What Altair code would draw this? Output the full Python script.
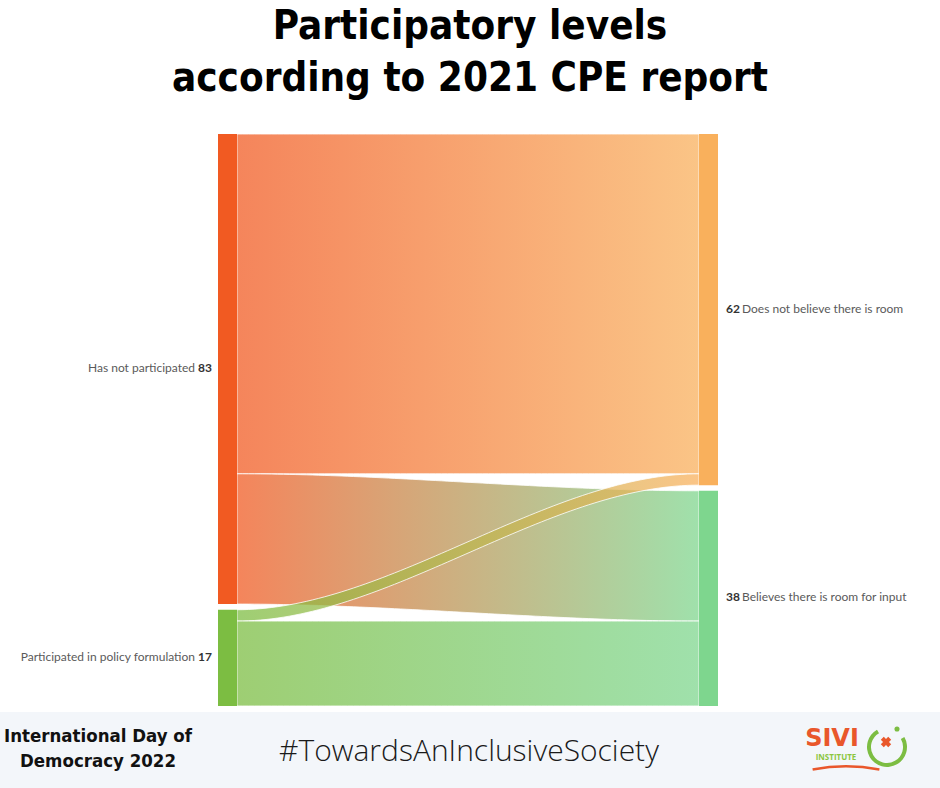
import altair as alt
import pandas as pd
import numpy as np

# ---------------- data ----------------
left_names = ["Has not participated", "Participated in policy formulation"]
left_values = [83, 17]
left_colors = ["#f15a22", "#7cbd42"]
right_names = ["Does not believe there is room", "Believes there is room for input"]
right_values = [62, 38]
right_colors = ["#f9b05c", "#7ed68e"]
link_source = [0, 0, 1, 1]
link_target = [0, 1, 0, 1]
link_values = [60, 23, 2, 15]

title_lines = ["Participatory levels", "according to 2021 CPE report"]
banner_left = ["International Day of", "Democracy 2022"]
hashtag = "#TowardsAnInclusiveSociety"
logo_word = "SIVI"
logo_sub = "INSTITUTE"

# ---------------- layout (sankey) ----------------
PAD = 1.0         # gap between nodes, in value units
NODE_W = 0.038    # node width as fraction of column distance
CURVE = 0.33
TOTAL = sum(left_values) + PAD

def stack(values):
    y0, out = 0.0, []
    for v in values:
        out.append((y0, y0 + v))
        y0 += v + PAD
    return out

left_pos = stack(left_values)
right_pos = stack(right_values)

node_rows = []
for i, (n, v) in enumerate(zip(left_names, left_values)):
    node_rows.append(dict(name=n, value=v, x0=0.0, x1=NODE_W,
                          y0=left_pos[i][0], y1=left_pos[i][1],
                          ym=(left_pos[i][0] + left_pos[i][1]) / 2, side="L"))
for i, (n, v) in enumerate(zip(right_names, right_values)):
    node_rows.append(dict(name=n, value=v, x0=1 - NODE_W, x1=1.0,
                          y0=right_pos[i][0], y1=right_pos[i][1],
                          ym=(right_pos[i][0] + right_pos[i][1]) / 2, side="R"))
nodes = pd.DataFrame(node_rows)

# link offsets at source (in target order) and target (in source order)
src_off = {i: left_pos[i][0] for i in range(len(left_values))}
src_start = {}
for k in sorted(range(len(link_values)), key=lambda k: (link_source[k], link_target[k])):
    s = link_source[k]
    src_start[k] = src_off[s]
    src_off[s] += link_values[k]
tgt_off = {i: right_pos[i][0] for i in range(len(right_values))}
tgt_start = {}
for k in sorted(range(len(link_values)), key=lambda k: (link_target[k], link_source[k])):
    t = link_target[k]
    tgt_start[k] = tgt_off[t]
    tgt_off[t] += link_values[k]

tt = np.linspace(0, 1, 80)
bx = 3 * (1 - tt) ** 2 * tt * CURVE + 3 * (1 - tt) * tt ** 2 * (1 - CURVE) + tt ** 3
by = 3 * (1 - tt) * tt ** 2 + tt ** 3
flow_rows = []
for k in range(len(link_values)):
    sy, ty, v = src_start[k], tgt_start[k], link_values[k]
    for xx, b in zip(bx, by):
        top = sy + (ty - sy) * b
        flow_rows.append(dict(link=k, x=NODE_W + (1 - 2 * NODE_W) * xx, y0=top, y1=top + v))
flows = pd.DataFrame(flow_rows)

W, H, TOP = 940, 678, 110
xscale = alt.Scale(domain=[0, 1], range=[218, 718])
yscale = alt.Scale(domain=[0, TOTAL], range=[24, 596])

LABEL_FONT = "Lato"
COND = "DejaVu Sans Condensed, Roboto, sans-serif"
TAU = 2 * np.pi

layers = []
one = pd.DataFrame({"k": [0]})
# banner background
layers.append(alt.Chart(one).mark_rect(color="#f3f6fa").encode(
    x=alt.value(0), x2=alt.value(W), y=alt.value(602), y2=alt.value(H)))

# flows
for k in range(len(link_values)):
    c0 = left_colors[link_source[k]]
    c1 = right_colors[link_target[k]]
    grad = alt.Gradient(gradient="linear", x1=0, y1=0, x2=1, y2=0,
                        stops=[alt.GradientStop(color=c0, offset=0),
                               alt.GradientStop(color=c1, offset=1)])
    layers.append(
        alt.Chart(flows).transform_filter(alt.datum.link == k)
        .mark_area(fill=grad, fillOpacity=0.74, stroke="white", strokeWidth=1,
                   strokeOpacity=0.8, orient="vertical")
        .encode(x=alt.X("x:Q", scale=xscale, axis=None),
                y=alt.Y("y0:Q", scale=yscale, axis=None),
                y2="y1:Q")
    )

# nodes
layers.append(
    alt.Chart(nodes).mark_rect().encode(
        x=alt.X("x0:Q", scale=xscale, axis=None), x2="x1:Q",
        y=alt.Y("y0:Q", scale=yscale, axis=None), y2="y1:Q",
        color=alt.Color("name:N", legend=None,
                        scale=alt.Scale(domain=left_names + right_names,
                                        range=left_colors + right_colors)))
)

# labels
L = alt.datum.side == "L"
R = alt.datum.side == "R"
layers.append(alt.Chart(nodes).transform_filter(L).mark_text(
    align="right", baseline="middle", dx=-6, dy=-1, font=LABEL_FONT, fontSize=12,
    fontWeight="bold", color="#333333").encode(
    x=alt.X("x0:Q", scale=xscale), y=alt.Y("ym:Q", scale=yscale), text="value:Q"))
layers.append(alt.Chart(nodes).transform_filter(L).mark_text(
    align="right", baseline="middle", dx=-23, dy=-1, font=LABEL_FONT, fontSize=12,
    color="#5a5a5a").encode(
    x=alt.X("x0:Q", scale=xscale), y=alt.Y("ym:Q", scale=yscale), text="name:N"))
layers.append(alt.Chart(nodes).transform_filter(R).mark_text(
    align="left", baseline="middle", dx=8, dy=-1, font=LABEL_FONT, fontSize=12,
    fontWeight="bold", color="#333333").encode(
    x=alt.X("x1:Q", scale=xscale), y=alt.Y("ym:Q", scale=yscale), text="value:Q"))
layers.append(alt.Chart(nodes).transform_filter(R).mark_text(
    align="left", baseline="middle", dx=24, dy=-1, font=LABEL_FONT, fontSize=12,
    color="#5a5a5a").encode(
    x=alt.X("x1:Q", scale=xscale), y=alt.Y("ym:Q", scale=yscale), text="name:N"))

# banner texts
layers.append(alt.Chart(one).mark_text(
    font=COND, fontWeight="bold", fontSize=18.5, lineHeight=25, align="center",
    baseline="alphabetic", color="#111111").encode(
    x=alt.value(98), y=alt.value(632), text=alt.value(banner_left)))
layers.append(alt.Chart(one).mark_text(
    font="Open Sans", fontWeight=300, fontSize=30, align="center",
    baseline="middle", color="#1a1a1a").encode(
    x=alt.value(469), y=alt.value(642), text=alt.value(hashtag)))

# logo
layers.append(alt.Chart(one).mark_text(
    font="DejaVu Sans", fontWeight="bold", fontSize=24, align="center",
    baseline="alphabetic", color="#e9572b").encode(
    x=alt.value(832), y=alt.value(636), text=alt.value(logo_word)))
layers.append(alt.Chart(one).mark_text(
    font="Open Sans", fontWeight="bold", fontSize=8, align="center",
    baseline="middle", color="#8cc63f").encode(
    x=alt.value(836), y=alt.value(648), text=alt.value(logo_sub)))
layers.append(alt.Chart(one).mark_arc(
    theta=1.05, theta2=5.76, radius=20, radius2=16, color="#7cbd42").encode(
    x=alt.value(887), y=alt.value(637)))
layers.append(alt.Chart(one).mark_arc(
    theta=TAU - 0.19, theta2=TAU + 0.19, radius=178, radius2=175.5,
    color="#e9572b").encode(x=alt.value(846), y=alt.value(833)))
layers.append(alt.Chart(one).mark_point(
    shape="cross", angle=45, filled=True, size=110, color="#e9572b", opacity=1).encode(
    x=alt.value(886), y=alt.value(632)))
layers.append(alt.Chart(one).mark_point(
    shape="circle", filled=True, size=26, color="#7cbd42", opacity=1).encode(
    x=alt.value(897), y=alt.value(619)))

chart = alt.layer(*layers).properties(
    width=W, height=H,
    title=alt.TitleParams(text=title_lines, font=COND, fontWeight="bold",
                          fontSize=40, lineHeight=52, anchor="middle",
                          baseline="top", offset=11, color="#000000"),
    autosize=alt.AutoSizeParams(type="none"),
    padding={"left": 0, "right": 0, "top": TOP, "bottom": 0},
    background="white",
).configure_view(stroke=None, strokeWidth=0)

chart.save("out.html", embed_options={"renderer": "svg", "actions": False})
